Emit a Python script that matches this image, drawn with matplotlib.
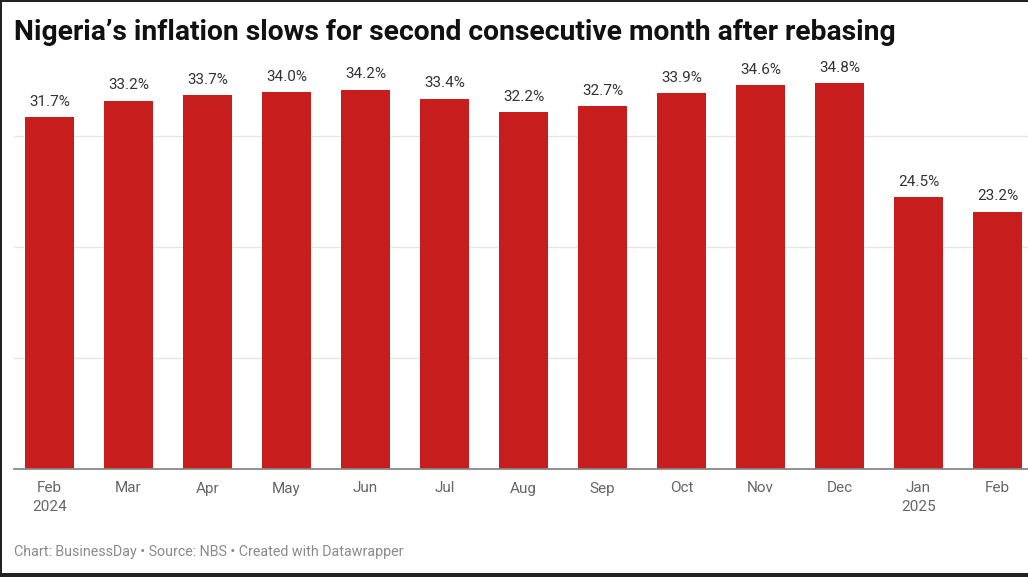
import matplotlib.pyplot as plt
from matplotlib.patches import Rectangle

plt.rcParams['font.family'] = ['Roboto', 'DejaVu Sans']

# Données : inflation annuelle (%)
mois = ["Feb\n2024", "Mar", "Apr", "May", "Jun", "Jul", "Aug", "Sep", "Oct", "Nov", "Dec", "Jan\n2025", "Feb"]
inflation = [31.7, 33.2, 33.7, 34.0, 34.2, 33.4, 32.2, 32.7, 33.9, 34.6, 34.8, 24.5, 23.2]
grille = [10, 20, 30]

W, H = 1028, 577
fig = plt.figure(figsize=(W / 100, H / 100), dpi=100)
fig.patch.set_facecolor('white')

ax = fig.add_axes([14 / W, 108 / H, 1014 / W, 399.3 / H])
x = list(range(len(mois)))
ax.bar(x, inflation, width=0.61, color='#c71e1d', zorder=2)

for xi, v in zip(x, inflation):
    ax.annotate(f"{v:.1f}%", (xi, v), xytext=(0, 6), textcoords='offset points',
                ha='center', va='bottom', fontsize=11, color='#333333')

ax.set_xlim(-0.449, 12.386)
ax.set_ylim(0, 36)
ax.set_yticks(grille)
ax.yaxis.grid(True, color='#e6e6e6', lw=1, zorder=0)
ax.tick_params(axis='y', length=0, labelleft=False)
ax.set_xticks(x)
ax.set_xticklabels(mois, fontsize=11, color='#666666', linespacing=1.45, va='top')
ax.tick_params(axis='x', length=0, pad=9)

for s in ['top', 'right', 'left']:
    ax.spines[s].set_visible(False)
ax.spines['bottom'].set_color('#888888')
ax.spines['bottom'].set_linewidth(1.3)
ax.spines['bottom'].set_zorder(3)

# Titre et pied de page
fig.text(14 / W, 1 - 32 / H, "Nigeria’s inflation slows for second consecutive month after rebasing",
         fontsize=20.35, fontweight='bold', color='#111111', va='center', ha='left')
fig.text(14 / W, 1 - 552 / H, "Chart: BusinessDay • Source: NBS • Created with Datawrapper",
         fontsize=10.25, color='#8a8a8a', va='center', ha='left')

# Cadre de la capture d'écran
fig.add_artist(Rectangle((0, 0), 2 / W, 1, transform=fig.transFigure, color='#222222', lw=0))
fig.add_artist(Rectangle((0, 1 - 1.5 / H), 1, 1.5 / H, transform=fig.transFigure, color='#222222', lw=0))
fig.add_artist(Rectangle((0, 0), 1, 4 / H, transform=fig.transFigure, color='#222222', lw=0))

fig.savefig('out.png', dpi=100, facecolor='white')
